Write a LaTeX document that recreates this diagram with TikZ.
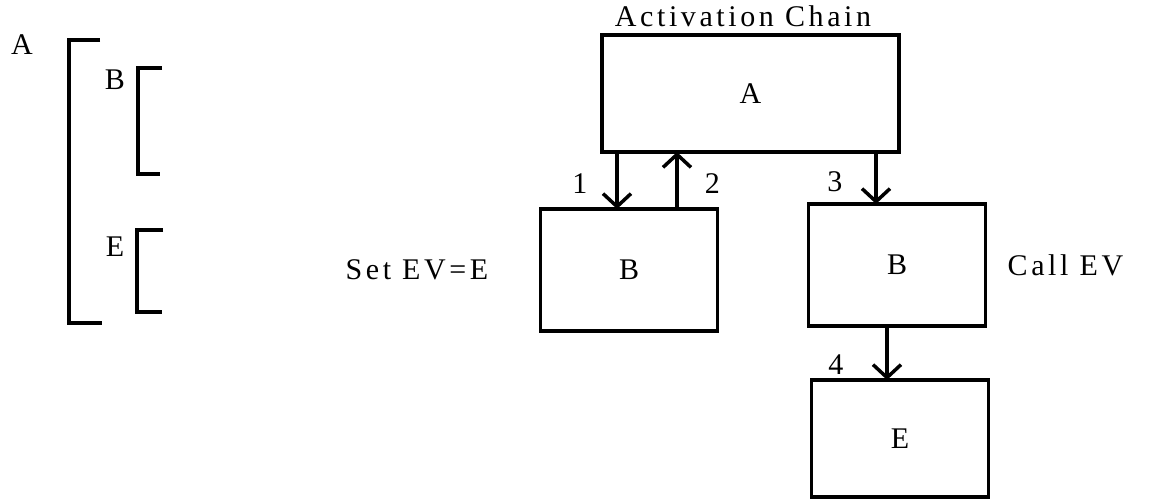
\documentclass[tikz,border=0pt]{standalone}
\usepackage{fontspec}
\setmainfont{Liberation Serif}[LetterSpace=12]
\usetikzlibrary{arrows.meta, positioning}
\newcommand{\lblfont}{\fontsize{30}{34}\selectfont}

\begin{document}
\begin{tikzpicture}[x=1pt, y=-1pt,
    box/.style={rectangle, draw, line width=3.5pt, minimum width=177pt, minimum height=122pt, inner sep=0pt, outer sep=0pt, font=\lblfont},
    tag/.style={inner sep=0pt, font=\lblfont},
    flow/.style={-{Straight Barb[length=13pt, width=28pt]}, line width=3.5pt},
    brk/.style={line width=4.5pt}
]
    \useasboundingbox (0,0) rectangle (1151,500);
    % nesting of the blocks
    \node [tag] (outer) at (22,45) {A};
    \node [tag] (innerb) at (115,80) {B};
    \node [tag] (innere) at (115,247) {E};
    \draw [brk] (100,40) -- (69,40) -- (69,323) -- (102,323);
    \draw [brk] (162,68) -- (138,68) -- (138,174) -- (160,174);
    \draw [brk] (163,230) -- (137,230) -- (137,312) -- (162,312);

    % activation chain
    \node [box, minimum width=297pt, minimum height=117pt] (a) at (750.5,93.5) {A};
    \node [tag, above=8pt of a, xshift=-7.5pt] (title) {Activation Chain};
    \node [box, below=57pt of a, xshift=-121.5pt] (b1) {B};
    \node [box, below=52pt of a, xshift=146.5pt] (b2) {B};
    \node [box, minimum height=117pt, below=54pt of b2, xshift=3pt] (e) {E};
    \node [tag, left=52pt of b1] (set) {Set EV=E};
    \node [tag, right=22pt of b2] (call) {Call EV};

    \draw [flow] ([xshift=-12pt]b1.north |- a.south) -- node [tag, pos=0.55, left=28pt] {1} ([xshift=-12pt]b1.north);
    \draw [flow] ([xshift=48pt]b1.north) -- node [tag, pos=0.45, right=26pt] {2} ([xshift=48pt]b1.north |- a.south);
    \draw [flow] ([xshift=-21pt]b2.north |- a.south) -- node [tag, pos=0.58, left=32pt] {3} ([xshift=-21pt]b2.north);
    \draw [flow] ([xshift=-10pt]b2.south) -- node [tag, pos=0.72, left=42pt] {4} ([xshift=-10pt]b2.south |- e.north);
\end{tikzpicture}
\end{document}
